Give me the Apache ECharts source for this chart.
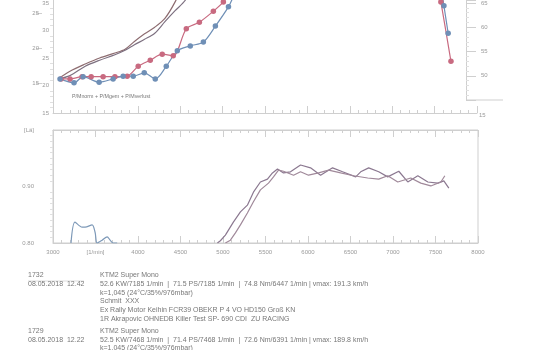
<!DOCTYPE html>
<html><head><meta charset="utf-8">
<script src="https://cdn.jsdelivr.net/npm/echarts@6/dist/echarts.min.js"></script>
<style>html,body{margin:0;padding:0;background:#fff}#c{width:560px;height:350px}</style>
</head><body><div id="c"></div><script>
// ---- top chart (P/M curves), x = rpm ----
const plainRun1 = [[3059,21.2],[3200,22.6],[3380,23.9],[3550,25.0],[3730,25.9],[3850,26.6],[3960,28.0],[4080,29.4],[4200,30.6],[4320,32.2],[4440,35.2],[4520,38]];
const plainRun2 = [[3059,21.2],[3200,21.8],[3380,23.5],[3550,24.6],[3730,25.6],[3850,26.4],[3960,27.4],[4080,28.4],[4200,29.5],[4320,31.6],[4440,33.6],[4560,35.5],[4640,38]];
const markedRed = [[3095,21.2],[3201,21.2],[3343,21.6],[3450,21.6],[3591,21.6],[3730,21.6],[3875,21.7],[4005,23.5],[4147,24.6],[4288,25.7],[4418,25.4],[4572,30.3],[4726,31.5],[4891,33.5],[5009,35.2],[5150,38],[6000,48],[7185,52],[7460,45],[7574,35.2],[7693,24.4]];
const markedBlue = [[3083,21.2],[3248,20.5],[3355,21.6],[3544,20.6],[3709,21.2],[3827,21.7],[3946,21.7],[4076,22.3],[4206,21.2],[4336,23.5],[4466,26.3],[4619,27.2],[4773,27.9],[4915,30.8],[5069,34.3],[5200,38],[6000,48],[7468,52],[7560,40],[7610,34.5],[7660,29.5]];
// ---- bottom chart (lambda) ----
const lambdaRun1 = [[4934,0.800],[4969,0.804],[5028,0.814],[5122,0.837],[5205,0.855],[5287,0.867],[5358,0.890],[5440,0.908],[5523,0.913],[5582,0.924],[5641,0.931],[5712,0.924],[5794,0.926],[5912,0.938],[6030,0.933],[6148,0.920],[6289,0.933],[6407,0.926],[6561,0.917],[6620,0.926],[6714,0.933],[6832,0.926],[6938,0.917],[7068,0.927],[7174,0.908],[7292,0.919],[7410,0.908],[7527,0.906],[7598,0.910],[7657,0.897]];
const lambdaRun2 = [[5028,0.800],[5087,0.805],[5146,0.818],[5205,0.832],[5287,0.853],[5358,0.873],[5440,0.894],[5535,0.906],[5594,0.917],[5653,0.929],[5712,0.927],[5830,0.920],[5912,0.926],[6006,0.920],[6124,0.924],[6243,0.929],[6384,0.924],[6537,0.919],[6702,0.915],[6832,0.913],[6938,0.919],[7056,0.908],[7209,0.915],[7327,0.906],[7445,0.901],[7563,0.908],[7610,0.919]];
const lambdaLow = [[3212,0.800],[3259,0.837],[3342,0.828],[3377,0.828],[3460,0.832],[3495,0.819],[3519,0.800],[3578,0.805],[3637,0.811],[3672,0.805],[3707,0.800],[3755,0.800]];
// ---- tick labels / texts ----
const outerTicks = [15,20,25];
const legendText = 'P/Mnorm + P/Mgem + P/Mverlust';
const infoLeft = [['1732',276],['08.05.2018  12.42',285],['1729',332],['08.05.2018  12.22',341]];
const infoRight = [
 ['KTM2 Super Mono',276],
 ['52.6 KW/7185 1/min  |  71.5 PS/7185 1/min  |  74.8 Nm/6447 1/min | vmax: 191.3 km/h',285],
 ['k=1,045 (24°C/35%/976mbar)',294],
 ['Schmit  XXX',302],
 ['Ex Rally Motor Keihin FCR39 OBEKR P 4 VO HD150 Groß KN',311],
 ['1R Akrapovic OHNEDB Killer Test SP- 690 CDI  ZU RACING',320],
 ['KTM2 Super Mono',332],
 ['52.5 KW/7468 1/min  |  71.4 PS/7468 1/min  |  72.6 Nm/6391 1/min | vmax: 189.8 km/h',341],
 ['k=1,045 (24°C/35%/976mbar)',349]
];

const FONT = '"Liberation Sans", Arial, sans-serif';
const AX = '#cfcfcf', LBL = '#9a9a9a';
const chart = echarts.init(document.getElementById('c'), null, {renderer:'canvas'});

function xAx(grid, opts){
  return Object.assign({type:'value', gridIndex:grid, min:3000, max:8000, interval:500,
    axisLine:{lineStyle:{color:AX,width:1}}, axisTick:{inside:true,length:7,lineStyle:{color:AX}},
    minorTick:{show:true,splitNumber:5,length:3,lineStyle:{color:AX}},
    splitLine:{show:false}, axisLabel:{show:false}}, opts||{});
}
const gfx = [];
gfx.push({type:'text', left:72, top:94, style:{text:legendText, fill:'#777', font:'5.3px '+FONT}});
gfx.push({type:'text', left:479, top:112, style:{text:'15', fill:LBL, font:'6px '+FONT}});
gfx.push({type:'line', shape:{x1:466,y1:100,x2:503,y2:100}, style:{stroke:AX,lineWidth:1}});
gfx.push({type:'line', shape:{x1:28,y1:281,x2:84,y2:281}, style:{stroke:'#ddd',lineWidth:1}});
infoLeft.forEach(([t,y])=>gfx.push({type:'text', left:28, top:y-4, style:{text:t, fill:'#777', font:'7px '+FONT}}));
infoRight.forEach(([t,y])=>gfx.push({type:'text', left:100, top:y-4, style:{text:t, fill:'#777', font:'7px '+FONT}}));

chart.setOption({
  animation:false,
  backgroundColor:'#fff',
  grid:[
    {left:53, top:0, width:424, height:113},
    {left:53, top:130, width:425, height:113, show:true, borderColor:AX, borderWidth:1},
    {left:53, top:0, width:413, height:100}
  ],
  xAxis:[
    xAx(0),
    xAx(1,{axisLabel:{show:true, color:LBL, fontSize:6, fontFamily:FONT, margin:6,
      formatter:v=> v===3500 ? '[1/min]' : String(v)}}),
    xAx(1,{position:'top'}),
    {type:'value', gridIndex:2, min:3000, max:8000, show:false}
  ],
  yAxis:[
    {type:'value', gridIndex:0, min:15, max:35.5, interval:5,
     axisLine:{show:true,lineStyle:{color:AX}}, axisTick:{show:false},
     minorTick:{show:true,splitNumber:5,length:3,lineStyle:{color:'#e0e0e0'}},
     splitLine:{show:false},
     axisLabel:{color:LBL,fontSize:6,fontFamily:FONT,margin:4,showMaxLabel:false,
       formatter:v=> v%5===0 ? String(v) : ''}},
    {type:'value', gridIndex:0, min:10.714, max:26.857, offset:11, position:'left',
     axisLine:{show:false}, splitLine:{show:false},
     axisTick:{show:true,length:6,customValues:outerTicks,lineStyle:{color:AX}},
     axisLabel:{color:LBL,fontSize:6,fontFamily:FONT,margin:3,customValues:outerTicks}},
    {type:'value', gridIndex:1, min:0.8, max:1.0, interval:0.1,
     axisLine:{show:true,lineStyle:{color:AX}}, axisTick:{show:false},
     minorTick:{show:true,splitNumber:10,length:3,lineStyle:{color:'#e0e0e0'}},
     splitLine:{show:false},
     axisLabel:{color:LBL,fontSize:6,fontFamily:FONT,margin:19,
       formatter:v=> v>0.99 ? '[Lä]' : v.toFixed(2)}},
    {type:'value', gridIndex:2, position:'right', min:45, max:65.5, interval:5,
     axisLine:{show:true,lineStyle:{color:AX}},
     axisTick:{show:true,length:10,lineStyle:{color:AX}},
     minorTick:{show:true,splitNumber:5,length:3,lineStyle:{color:'#e0e0e0'}},
     splitLine:{show:false},
     axisLabel:{color:LBL,fontSize:6,fontFamily:FONT,margin:15,
       formatter:v=> (v%5===0 && v>45) ? String(v) : ''}}
  ],
  series:[
    {type:'line', xAxisIndex:0, yAxisIndex:0, data:plainRun1, smooth:0.3, symbol:'none', clip:true,
     lineStyle:{color:'#8d6c70',width:1.2}},
    {type:'line', xAxisIndex:0, yAxisIndex:0, data:plainRun2, smooth:0.3, symbol:'none', clip:true,
     lineStyle:{color:'#7d7080',width:1.2}},
    {type:'line', xAxisIndex:0, yAxisIndex:0, data:markedRed, smooth:0.3, clip:true,
     symbol:'circle', symbolSize:5.5, itemStyle:{color:'#c86a80'}, lineStyle:{color:'#c86a80',width:1.2}},
    {type:'line', xAxisIndex:0, yAxisIndex:0, data:markedBlue, smooth:0.3, clip:true,
     symbol:'circle', symbolSize:5.5, itemStyle:{color:'#6f8fb6'}, lineStyle:{color:'#6f8fb6',width:1.2}},
    {type:'line', xAxisIndex:1, yAxisIndex:2, data:lambdaRun1, symbol:'none', clip:true,
     lineStyle:{color:'#8b7890',width:1.2}},
    {type:'line', xAxisIndex:1, yAxisIndex:2, data:lambdaRun2, symbol:'none', clip:true,
     lineStyle:{color:'#a0899a',width:1.2}},
    {type:'line', xAxisIndex:1, yAxisIndex:2, data:lambdaLow, smooth:0.3, symbol:'none', clip:true,
     lineStyle:{color:'#7d99b8',width:1.2}}
  ],
  graphic:gfx
});
</script></body></html>
